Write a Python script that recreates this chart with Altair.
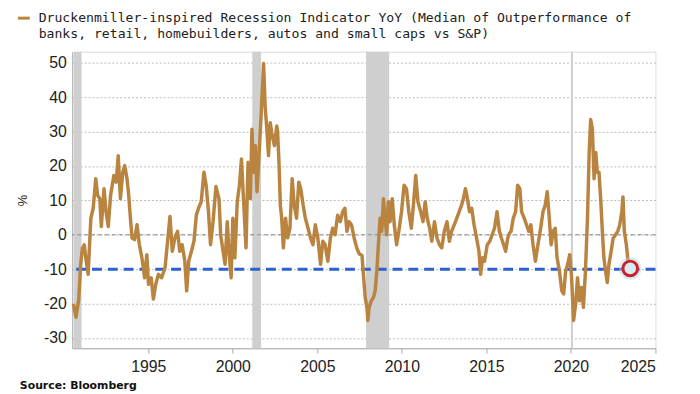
import altair as alt
import pandas as pd

# ---- data ----
years = [1990.57, 1990.72, 1990.88, 1991.0, 1991.1, 1991.21, 1991.3, 1991.44, 1991.6, 1991.74, 1991.89,
         1992.0, 1992.13, 1992.22, 1992.38, 1992.5, 1992.63, 1992.77, 1992.96, 1993.1, 1993.22, 1993.35,
         1993.49, 1993.6, 1993.74, 1993.84, 1993.94, 1994.04, 1994.19, 1994.33, 1994.47, 1994.62, 1994.78,
         1994.91, 1995.01, 1995.17, 1995.3, 1995.44, 1995.6, 1995.79, 1995.99, 1996.14, 1996.28, 1996.42,
         1996.57, 1996.73, 1996.86, 1997.0, 1997.16, 1997.27, 1997.39, 1997.55, 1997.7, 1997.84, 1997.97,
         1998.13, 1998.29, 1998.42, 1998.56, 1998.68, 1998.83, 1999.0, 1999.18, 1999.28, 1999.42, 1999.54,
         1999.67, 1999.77, 1999.9, 2000.0, 2000.12, 2000.26, 2000.39, 2000.51, 2000.65, 2000.78, 2000.9,
         2001.04, 2001.13, 2001.23, 2001.33, 2001.43, 2001.56, 2001.68, 2001.82, 2001.91, 2002.01, 2002.11,
         2002.21, 2002.3, 2002.46, 2002.6, 2002.65, 2002.73, 2002.81, 2002.89, 2002.99, 2003.12, 2003.24,
         2003.38, 2003.51, 2003.63, 2003.77, 2003.9, 2004.02, 2004.16, 2004.29, 2004.45, 2004.6, 2004.74,
         2004.88, 2005.03, 2005.19, 2005.32, 2005.46, 2005.62, 2005.77, 2005.91, 2006.05, 2006.2, 2006.36,
         2006.5, 2006.63, 2006.75, 2006.88, 2007.02, 2007.18, 2007.33, 2007.47, 2007.64, 2007.74, 2007.83,
         2007.93, 2007.99, 2008.07, 2008.19, 2008.32, 2008.42, 2008.52, 2008.61, 2008.71, 2008.81, 2008.91,
         2009.0, 2009.1, 2009.2, 2009.3, 2009.43, 2009.55, 2009.69, 2009.82, 2009.98, 2010.13, 2010.27,
         2010.41, 2010.56, 2010.7, 2010.82, 2010.95, 2011.11, 2011.25, 2011.38, 2011.5, 2011.64, 2011.77,
         2011.93, 2012.08, 2012.22, 2012.36, 2012.51, 2012.67, 2012.81, 2012.94, 2013.1, 2013.25, 2013.39,
         2013.53, 2013.64, 2013.76, 2013.88, 2014.0, 2014.13, 2014.27, 2014.42, 2014.56, 2014.66, 2014.77,
         2014.89, 2015.05, 2015.2, 2015.34, 2015.48, 2015.63, 2015.77, 2015.89, 2016.02, 2016.14, 2016.26,
         2016.37, 2016.46, 2016.59, 2016.73, 2016.85, 2016.98, 2017.08, 2017.24, 2017.37, 2017.51, 2017.63,
         2017.76, 2017.9, 2018.05, 2018.21, 2018.35, 2018.48, 2018.6, 2018.72, 2018.83, 2018.95, 2019.07,
         2019.18, 2019.32, 2019.46, 2019.57, 2019.69, 2019.81, 2019.93, 2020.04, 2020.16, 2020.28, 2020.39,
         2020.51, 2020.63, 2020.74, 2020.86, 2020.98, 2021.08, 2021.17, 2021.27, 2021.37, 2021.47, 2021.56,
         2021.66, 2021.76, 2021.86, 2021.95, 2022.05, 2022.15, 2022.25, 2022.38, 2022.5, 2022.64, 2022.77,
         2022.89, 2023.01, 2023.08, 2023.16, 2023.28, 2023.38, 2023.47]
values = [-20.1, -24.0, -19.0, -8.6, -4.0, -2.9, -6.7, -11.5, 4.8, 7.7, 16.3,
          11.5, 10.5, 2.4, 13.4, 6.7, 2.4, 11.5, 17.2, 15.3, 23.0, 10.5,
          18.2, 20.1, 16.3, 11.5, 4.8, -1.0, -1.4, 2.9, -2.9, -6.7, -12.5,
          -5.8, -14.4, -12.5, -18.7, -14.4, -11.5, -12.5, -9.6, -1.9, 5.3, -4.8,
          -1.0, 1.0, -4.8, -2.9, -7.7, -16.3, -7.7, -4.8, -1.9, 5.7, 7.7,
          9.6, 18.2, 14.4, 6.7, -2.9, 3.8, 14.0, 10.5, 0.0, -4.8, -8.6,
          3.8, -4.8, -12.5, 4.8, -6.7, 9.6, 14.4, 22.0, 8.6, -3.8, 21.1,
          10.5, 30.7, 18.2, 25.9, 12.5, 24.0, 35.4, 49.8, 37.4, 30.7, 23.0,
          32.6, 29.7, 25.9, 31.6, 29.7, 21.1, 8.6, 4.8, -3.8, 4.8, -0.9,
          1.9, 16.3, 8.6, 4.8, 15.3, 13.4, 8.6, 4.8, 1.9, -1.0, -2.9,
          2.9, -1.0, -8.6, -1.9, -2.9, -7.7, -1.0, 1.9, 0.0, 5.7, 3.8,
          6.7, 7.7, 1.0, 3.8, 2.9, -1.0, -3.8, -5.5, -6.0, -12.5, -18.2,
          -21.1, -24.9, -21.1, -19.2, -18.2, -16.3, -10.5, -2.9, 4.8, 1.0, 10.5,
          4.8, 0.0, 9.6, 3.8, 10.5, 2.9, -2.9, 1.0, 6.7, 14.4, 13.4,
          6.7, 1.9, 9.6, 17.2, 9.6, 6.7, 3.8, 9.6, 4.8, 1.9, -1.9,
          3.8, -1.0, -2.9, -3.8, 1.0, 3.8, -1.9, 1.0, 2.9, 4.8, 6.7,
          8.6, 10.5, 13.4, 10.5, 6.7, 7.7, 2.9, -1.0, -4.8, -11.5, -6.7,
          -7.7, -2.9, -1.9, 0.0, 1.9, 6.7, 1.0, -1.0, -2.9, -4.8, -1.0,
          0.5, 1.0, 4.8, 6.7, 14.4, 13.4, 6.7, 4.8, 2.9, 1.0, 2.9,
          -2.9, -7.7, -2.9, 1.9, 6.7, 8.6, 12.5, 4.8, -2.9, 1.0, 1.9,
          -6.7, -10.5, -16.3, -17.2, -10.5, -8.6, -5.8, -12.5, -24.9, -20.1, -12.5,
          -19.2, -15.3, -21.1, -10.5, 4.8, 23.9, 33.5, 30.7, 16.3, 23.9, 18.2,
          18.2, 10.5, 1.0, -6.7, -10.5, -13.9, -8.6, -4.8, -1.0, 0.0, 1.0,
          2.9, 6.7, 11.0, 1.0, -2.9, -7.7, -9.6]

rec_start = [1990.6, 2001.15, 2007.88, 2020.0]
rec_end = [1991.05, 2001.67, 2009.25, 2020.12]

x_ticks = [1995, 2000, 2005, 2010, 2015, 2020, 2025]
y_ticks = [-30, -20, -10, 0, 10, 20, 30, 40, 50]

zero_level = [0]
threshold_level = [-10]
latest_year = [2023.51]
latest_value = [-9.8]

title_line1 = ["Druckenmiller-inspired Recession Indicator YoY (Median of Outperformance of"]
title_line2 = ["banks, retail, homebuilders, autos and small caps vs S&P)"]
source_text = ["Source: Bloomberg"]

# ---- tables ----
series_df = pd.DataFrame({"year": years, "value": values})
rec_df = pd.DataFrame({"start": rec_start, "end": rec_end})
zero_df = pd.DataFrame({"level": zero_level})
thr_df = pd.DataFrame({"level": threshold_level})
latest_df = pd.DataFrame({"year": latest_year, "value": latest_value})
src_df = pd.DataFrame({"t": source_text})
t1_df = pd.DataFrame({"t": title_line1})
t2_df = pd.DataFrame({"t": title_line2})

LINE = "#b8843f"
LABEL_FONT = "Liberation Sans"

xs = alt.Scale(domain=[1990.5, 2025], nice=False, zero=False)
ys = alt.Scale(domain=[-33, 53.2], nice=False, zero=False)

x_axis = alt.Axis(values=x_ticks, format="d", grid=False, title=None,
                  domainColor="#aaaaaa", tickColor="#aaaaaa", tickSize=5,
                  labelFont=LABEL_FONT, labelFontSize=16, labelColor="#222222",
                  labelPadding=5, labelOverlap=False)
y_axis = alt.Axis(values=y_ticks, grid=True, gridDash=[2, 2], gridColor="#bbbbbb",
                  domainColor="#aaaaaa", ticks=False, labelExpr="'' + datum.value",
                  labelFont=LABEL_FONT, labelFontSize=16, labelColor="#222222",
                  labelPadding=6, labelOverlap=False, labelBound=False, labelFlush=False,
                  title="%", titleFont=LABEL_FONT,
                  titleFontSize=13, titleFontWeight="normal", titleColor="#222222",
                  titlePadding=14)

bands = alt.Chart(rec_df).mark_rect(color="#cfcfcf").encode(
    x=alt.X("start:Q", scale=xs, axis=x_axis),
    x2="end:Q",
)

zero_rule = alt.Chart(zero_df).mark_rule(strokeDash=[4, 3], color="#8a8a8a", strokeWidth=1).encode(
    y=alt.Y("level:Q", scale=ys, axis=y_axis),
)

thr = alt.Chart(thr_df).mark_rule(strokeDash=[10, 6], color="#2f5fd0", strokeWidth=3).encode(
    y=alt.Y("level:Q", scale=ys, axis=y_axis),
)

line = alt.Chart(series_df).mark_line(color=LINE, strokeWidth=3.5, strokeJoin="round").encode(
    x=alt.X("year:Q", scale=xs, axis=x_axis),
    y=alt.Y("value:Q", scale=ys, axis=y_axis),
)

glow = alt.Chart(latest_df).mark_point(filled=True, color="#a9d8e3", opacity=0.45, size=520).encode(
    x=alt.X("year:Q", scale=xs, axis=x_axis), y=alt.Y("value:Q", scale=ys, axis=y_axis))
circle = alt.Chart(latest_df).mark_point(filled=True, fill="#d6eef3", stroke="#cc1f2f",
                                         strokeWidth=3, size=220, opacity=1).encode(
    x=alt.X("year:Q", scale=xs, axis=x_axis), y=alt.Y("value:Q", scale=ys, axis=y_axis))

swatch = alt.Chart(src_df).mark_rule(color=LINE, strokeWidth=3).encode(
    x=alt.value(-55), x2=alt.value(-43), y=alt.value(-34))

title_style = dict(align="left", baseline="top", font="DejaVu Sans Mono",
                   fontSize=13.3, color="#222222")
title1 = alt.Chart(t1_df).mark_text(**title_style).encode(
    x=alt.value(-34), y=alt.value(-41), text="t:N")
title2 = alt.Chart(t2_df).mark_text(**title_style).encode(
    x=alt.value(-34), y=alt.value(-25), text="t:N")

source = alt.Chart(src_df).mark_text(align="left", baseline="top", font="DejaVu Sans",
                                     fontSize=11, fontWeight="bold", color="#111111").encode(
    x=alt.value(-53), y=alt.value(332), text="t:N")

chart = alt.layer(bands, zero_rule, thr, line, glow, circle, swatch, title1, title2, source).properties(
    width=590,
    height=300,
    autosize=alt.AutoSizeParams(type="none"),
    padding={"left": 65, "top": 42, "right": 37, "bottom": 44},
).configure_view(stroke=None).configure(background="white").configure_axisY(labelOverlap=False)

chart.save("out.html", embed_options={"renderer": "svg", "actions": False})
